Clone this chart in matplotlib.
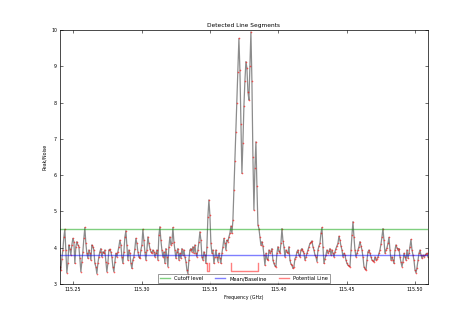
import numpy as np
import matplotlib
matplotlib.use('Agg')
import matplotlib.pyplot as plt
from matplotlib.ticker import FormatStrFormatter

# spectrum (peak/noise), one value per channel
snr = [
    3.48, 3.39, 3.70, 3.94, 4.29, 4.51, 3.94, 3.31, 3.57, 4.08,
    3.98, 3.80, 4.08, 4.26, 4.17, 3.57, 4.03, 4.17, 4.08, 4.03,
    3.71, 3.34, 3.62, 3.89, 4.26, 4.56, 4.12, 3.85, 3.71, 3.94,
    3.85, 3.66, 4.08, 4.03, 3.94, 3.57, 3.48, 3.29, 3.57, 3.75,
    3.89, 3.98, 3.75, 3.89, 3.85, 3.94, 3.62, 3.34, 3.57, 3.94,
    3.96, 3.89, 3.75, 3.48, 3.34, 3.62, 3.85, 3.75, 3.89, 4.03,
    4.21, 4.08, 3.75, 3.57, 3.89, 4.29, 4.47, 4.08, 3.66, 3.94,
    3.85, 3.57, 3.43, 3.66, 3.75, 3.98, 4.26, 4.12, 3.89, 3.75,
    3.71, 3.94, 4.08, 4.51, 4.21, 3.89, 3.66, 3.94, 4.30, 4.12,
    3.98, 3.89, 3.85, 3.94, 3.89, 3.75, 3.85, 3.94, 3.66, 4.35,
    4.58, 4.21, 3.94, 3.75, 3.89, 3.57, 3.98, 3.75, 3.48, 4.03,
    4.30, 4.08, 4.12, 4.56, 4.17, 3.94, 3.71, 3.89, 3.98, 3.66,
    3.85, 3.71, 3.98, 3.80, 3.94, 3.75, 3.62, 3.39, 3.29, 3.66,
    3.94, 3.98, 3.89, 4.03, 3.85, 4.08, 3.85, 3.75, 3.94, 4.17,
    4.44, 4.21, 3.75, 3.66, 3.89, 3.80, 3.57, 4.03, 4.86, 5.32,
    4.90, 4.12, 3.85, 3.94, 3.57, 3.75, 3.94, 3.75, 3.62, 3.85,
    3.71, 3.57, 3.85, 4.03, 4.26, 4.12, 3.94, 4.21, 4.17, 4.30,
    4.40, 4.60, 4.40, 4.76, 5.59, 6.40, 7.20, 8.00, 8.85, 9.77,
    8.90, 7.40, 6.05, 6.90, 7.90, 8.60, 9.13, 8.95, 8.30, 8.07,
    9.00, 9.95, 8.60, 6.50, 5.04, 6.20, 6.92, 5.70, 4.63,
    4.53, 4.30, 4.07, 4.17, 4.05, 3.80, 3.52, 3.85, 3.70, 3.66,
    3.94, 3.85, 3.90, 3.98, 3.66, 3.57, 3.50, 3.48, 3.85, 4.03,
    3.90, 3.85, 4.12, 4.53, 4.20, 4.03, 3.75, 3.94, 3.88, 3.85,
    4.03, 3.66, 3.55, 3.52, 3.43, 3.48, 3.70, 3.75, 3.89, 3.94,
    3.80, 3.75, 3.94, 3.98, 3.90, 3.85, 3.66, 3.75, 3.85, 3.94,
    4.03, 4.12, 4.15, 4.19, 4.03, 3.94, 3.80, 3.75, 3.62, 3.94,
    4.05, 4.12, 4.40, 4.56, 4.03, 3.57, 3.70, 3.80, 3.94, 3.85,
    3.90, 3.98, 3.80, 3.94, 3.85, 3.75, 3.89, 3.98, 4.05, 4.12,
    4.32, 4.21, 4.05, 3.94, 3.75, 3.85, 3.80, 3.66, 3.57, 3.52,
    3.50, 3.48, 3.94, 4.35, 4.72, 4.30, 3.94, 3.75, 3.85, 3.94,
    4.03, 4.17, 4.05, 3.94, 3.75, 3.48, 3.42, 3.39, 3.66, 3.89,
    3.94, 3.85, 3.75, 3.66, 3.64, 3.62, 3.75, 3.66, 3.70, 3.75,
    3.85, 3.94, 4.10, 4.30, 4.53, 4.21, 3.85, 3.94, 4.00, 4.12,
    4.29, 3.94, 3.66, 3.75, 3.66, 3.57, 3.94, 4.08, 4.00, 3.94,
    3.98, 3.75, 3.60, 3.48, 3.62, 3.85, 3.75, 3.66, 3.94, 3.71,
    3.85, 4.03, 4.23, 3.94, 3.80, 3.66, 3.39, 3.31, 3.45, 3.66,
    3.85, 3.94, 3.80, 3.71, 3.80, 3.75, 3.80, 3.83, 3.85, 3.75,
]
f_first = 115.24027   # GHz, first channel
f_last = 115.50955    # GHz, last channel

cutoff = 4.52
baseline = 3.80

# detected segments (GHz) and the levels of the step marker
seg_start = [115.3482, 115.3654]
seg_end = [115.3497, 115.3852]
pot_hi = 3.57
pot_lo = 3.35

freq = np.linspace(f_first, f_last, len(snr))

# build potential-line step trace, gaps between segments
px, py = [], []
for a, b in zip(seg_start, seg_end):
    px += [a, a, b, b, np.nan]
    py += [pot_hi, pot_lo, pot_lo, pot_hi, np.nan]

fig = plt.figure(figsize=(4.75, 3.16), dpi=100)
ax = fig.add_axes([0.126, 0.101, 0.775, 0.804])

ax.plot(freq, snr, '-', color='k', lw=0.9, alpha=0.45)
ax.plot(freq, snr, '.', color='r', ms=2.4, alpha=0.6, mew=0)
ax.axhline(cutoff, color='#00a000', lw=1.0, alpha=0.5, label='Cutoff level')
ax.axhline(baseline, color='b', lw=1.0, alpha=0.5, label='Mean/Baseline')
ax.plot(px, py, color='r', lw=1.0, alpha=0.5, label='Potential Line')

ax.set_xlim(f_first, f_last)
ax.set_ylim(3, 10)
ax.set_xticks([115.25, 115.30, 115.35, 115.40, 115.45, 115.50])
ax.xaxis.set_major_formatter(FormatStrFormatter('%.2f'))

ax.set_title('Detected Line Segments', fontsize=4.2, pad=2)
ax.set_xlabel('Frequency (GHz)', fontsize=3.4, labelpad=2.5)
ax.set_ylabel('Peak/Noise', fontsize=3.4, labelpad=3)
ax.tick_params(direction='in', top=True, right=True, length=2, width=0.4,
               labelsize=3.4, pad=2)
for s in ax.spines.values():
    s.set_linewidth(0.5)

leg = ax.legend(loc='lower center', ncol=3, fontsize=3.7, handlelength=2,
                columnspacing=2.3, borderpad=0.3, borderaxespad=0.3,
                fancybox=False)
leg.get_frame().set_linewidth(0.5)
leg.get_frame().set_edgecolor('0.3')

fig.savefig('out.png', dpi=100)
